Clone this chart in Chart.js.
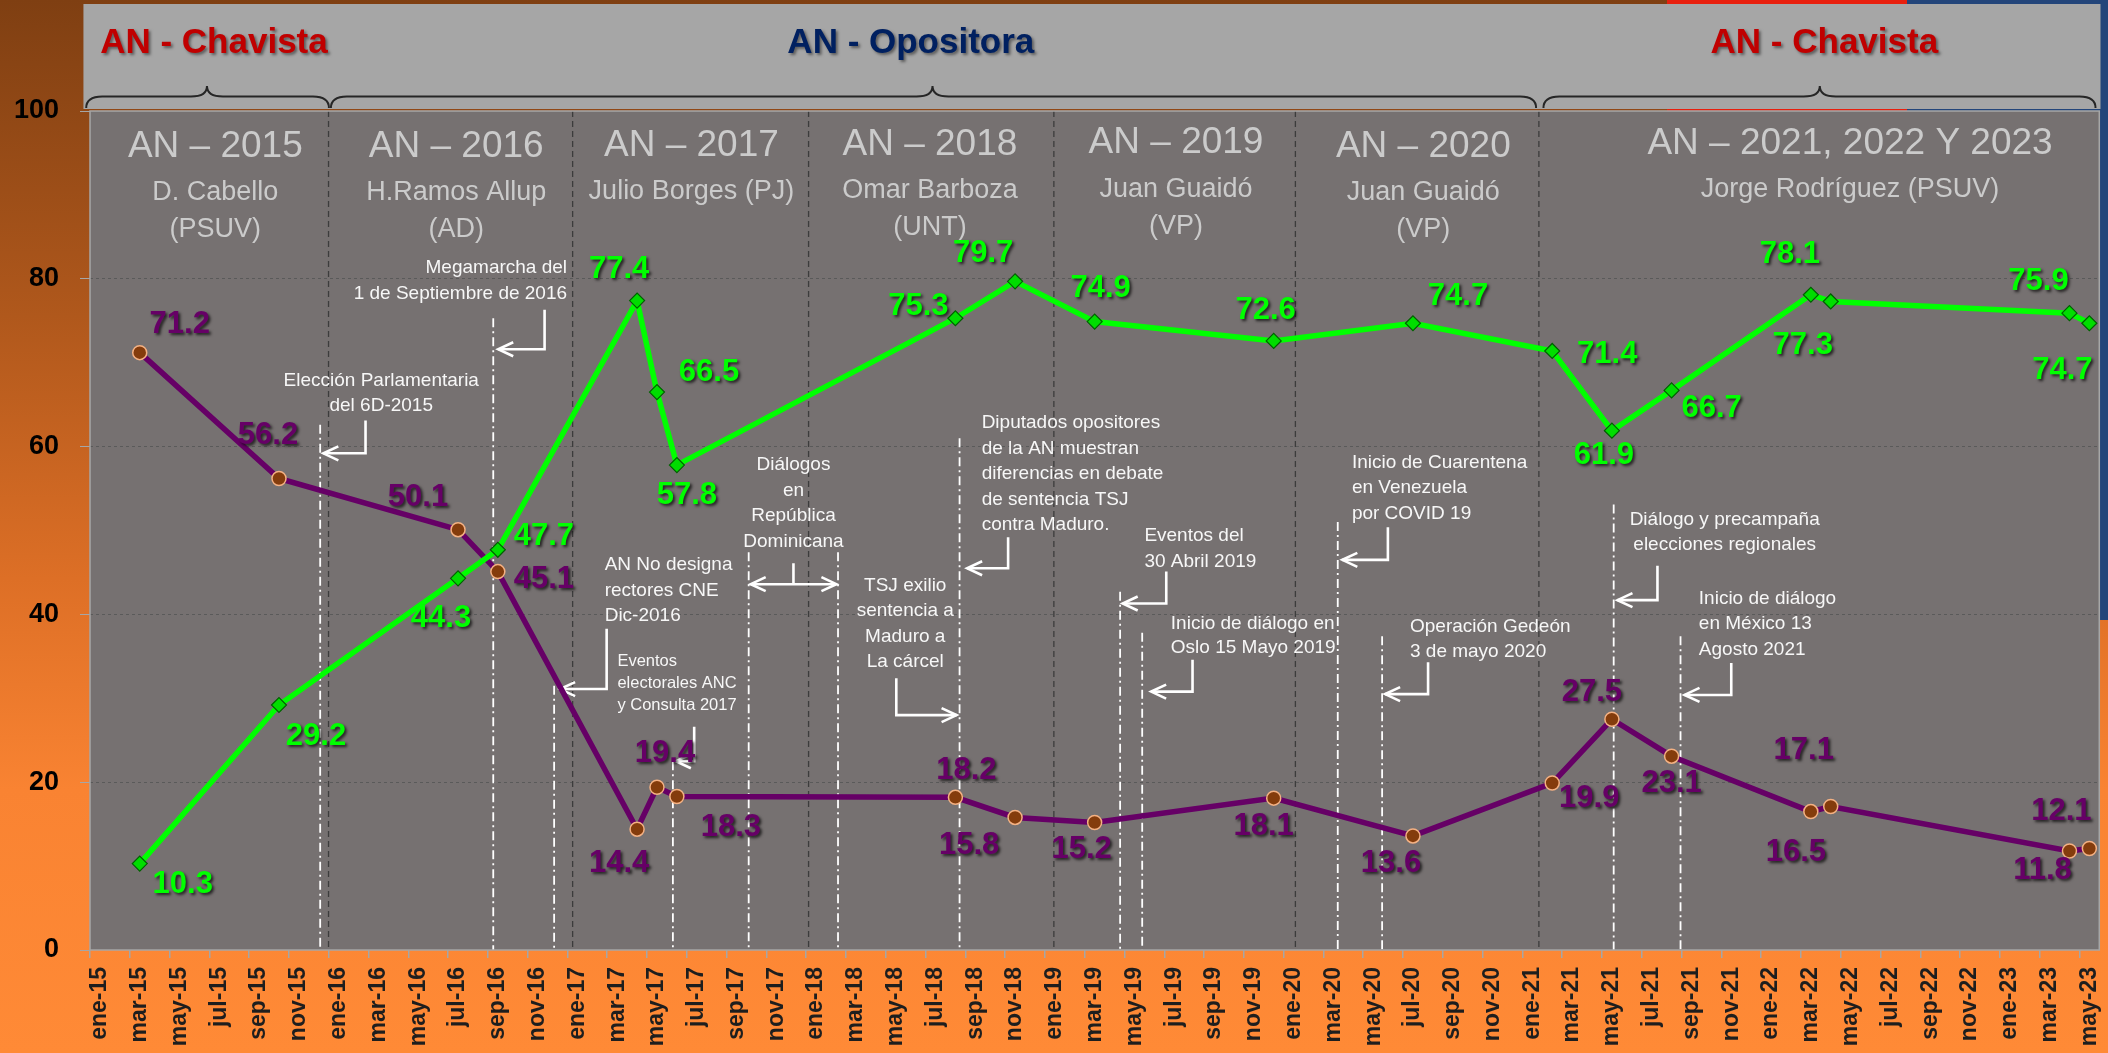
<!DOCTYPE html>
<html>
<head>
<meta charset="utf-8">
<script src="https://cdn.jsdelivr.net/npm/chart.js@4.4.1/dist/chart.umd.min.js"></script>
<style>
html, body { margin: 0; padding: 0; background: #ff8a36; }
canvas { display: block; }
</style>
</head>
<body>
<canvas id="anChart" width="2108" height="1053"></canvas>
<script>
// axis months: ene-15 .. may-23
const monthNames = ['ene', 'feb', 'mar', 'abr', 'may', 'jun', 'jul', 'ago', 'sep', 'oct', 'nov', 'dic'];
const months = [];
for (let yy = 15; yy <= 23; yy++) {
    for (let m = 0; m < 12; m++) {
        if (yy === 23 && m > 4) break;
        months.push(monthNames[m] + '-' + yy);
    }
}

// survey dates and values
const surveyMonths = ['mar-15', 'oct-15', 'jul-16', 'sep-16', 'abr-17', 'may-17', 'jun-17', 'ago-18', 'nov-18', 'mar-19',
    'dic-19', 'jul-20', 'feb-21', 'may-21', 'ago-21', 'mar-22', 'abr-22', 'abr-23', 'may-23'];
const greenValues = [10.3, 29.2, 44.3, 47.7, 77.4, 66.5, 57.8, 75.3, 79.7, 74.9,
    72.6, 74.7, 71.4, 61.9, 66.7, 78.1, 77.3, 75.9, 74.7];
const purpleValues = [71.2, 56.2, 50.1, 45.1, 14.4, 19.4, 18.3, 18.2, 15.8, 15.2,
    18.1, 13.6, 19.9, 27.5, 23.1, 16.5, 17.1, 11.8, 12.1];
const yTicks = [0, 20, 40, 60, 80, 100];

// where each value label sits relative to its point (px)
const greenLabelOffsets = [[43, 21], [37, 31], [-17, 40], [46, -13], [-18, -31], [52, -20], [10, 30], [-37, -12], [-32, -28], [6, -33],
    [-8, -30], [45, -27], [55, 3], [-8, 25], [40, 18], [-21, -40], [-28, 44], [-31, -32], [-27, 47]];
const purpleLabelOffsets = [[40, -28], [-11, -43], [-40, -32], [46, 8], [-18, 34], [8, -34], [54, 31], [11, -27], [-46, 28], [-13, 27],
    [-10, 28], [-22, 28], [37, 15], [-20, -27], [0, 27], [-15, 41], [-27, -56], [-27, 19], [-28, -37]];

// annotation layout, x in month index, y in axis value
const periodSeparators = [11.49, 23.76, 35.62, 47.95, 60.09, 72.33];
const eventLines = [
    { i: 11.07, top: 62.6 }, { i: 19.77, top: 75.3 }, { i: 22.83, top: 31.5 }, { i: 28.80, top: 22.5 },
    { i: 32.61, top: 47.4 }, { i: 37.10, top: 47.4 }, { i: 43.21, top: 61.0 }, { i: 51.28, top: 42.7 },
    { i: 52.39, top: 37.8 }, { i: 62.22, top: 51.0 }, { i: 64.45, top: 37.4 }, { i: 76.09, top: 53.1 },
    { i: 79.45, top: 37.4 }
];
const arrows = [
    { x: 13.35, y1: 63.1, y2: 59.2, to: 11.23 }, { x: 22.35, y1: 76.3, y2: 71.6, to: 20.02 },
    { x: 25.47, y1: 38.3, y2: 31.1, to: 23.13 }, { x: 29.87, y1: 26.6, y2: 22.5, to: 28.95 },
    { x: 40.03, y1: 32.4, y2: 28.0, to: 43.06 }, { x: 45.65, y1: 49.2, y2: 45.5, to: 43.59 },
    { x: 53.60, y1: 45.1, y2: 41.3, to: 51.41 }, { x: 54.92, y1: 34.6, y2: 30.8, to: 52.84 },
    { x: 64.74, y1: 50.4, y2: 46.5, to: 62.45 }, { x: 66.76, y1: 34.3, y2: 30.5, to: 64.60 },
    { x: 78.29, y1: 45.8, y2: 41.7, to: 76.28 }, { x: 82.00, y1: 34.2, y2: 30.4, to: 79.65 }
];
const doubleArrow = { from: 32.71, to: 37.02, y: 43.6, stem: 34.86, stemTop: 46.1 };
const notes = [
    { lines: ['Elección Parlamentaria', 'del 6D-2015'], i: 14.14, v: 67.86, align: 'center' },
    { lines: ['Megamarcha del', '1 de Septiembre de 2016'], i: 23.48, v: 81.3, align: 'right' },
    { lines: ['AN No designa', 'rectores CNE', 'Dic-2016'], i: 25.37, v: 45.89, align: 'left' },
    { lines: ['Eventos', 'electorales ANC', 'y Consulta 2017'], i: 26.01, v: 34.37, align: 'left', size: 16.5, lh: 22 },
    { lines: ['Diálogos', 'en', 'República', 'Dominicana'], i: 34.86, v: 57.81, align: 'center' },
    { lines: ['TSJ exilio', 'sentencia a', 'Maduro a', 'La cárcel'], i: 40.48, v: 43.43, align: 'center' },
    { lines: ['Diputados opositores', 'de la AN muestran', 'diferencias en debate', 'de sentencia TSJ', 'contra Maduro.'], i: 44.32, v: 62.82, align: 'left' },
    { lines: ['Eventos del', '30 Abril 2019'], i: 52.50, v: 49.35, align: 'left' },
    { lines: ['Inicio de diálogo en', 'Oslo 15 Mayo 2019'], i: 53.83, v: 38.86, align: 'left', lh: 24 },
    { lines: ['Inicio de Cuarentena', 'en Venezuela', 'por COVID 19'], i: 62.93, v: 58.09, align: 'left' },
    { lines: ['Operación Gedeón', '3 de mayo 2020'], i: 65.85, v: 38.47, align: 'left', lh: 24.5 },
    { lines: ['Diálogo y precampaña', 'elecciones regionales'], i: 81.67, v: 51.26, align: 'center', lh: 25 },
    { lines: ['Inicio de diálogo', 'en México 13', 'Agosto 2021'], i: 80.37, v: 41.92, align: 'left' }
];
const periodHeaders = [
    { title: 'AN – 2015', sub: ['D. Cabello', '(PSUV)'], i: 5.80, v: 95.76 },
    { title: 'AN – 2016', sub: ['H.Ramos Allup', '(AD)'], i: 17.91, v: 95.76 },
    { title: 'AN – 2017', sub: ['Julio Borges (PJ)'], i: 29.73, v: 95.87 },
    { title: 'AN – 2018', sub: ['Omar Barboza', '(UNT)'], i: 41.72, v: 95.96 },
    { title: 'AN – 2019', sub: ['Juan Guaidó', '(VP)'], i: 54.09, v: 96.16 },
    { title: 'AN – 2020', sub: ['Juan Guaidó', '(VP)'], i: 66.52, v: 95.76 },
    { title: 'AN – 2021, 2022 Y 2023', sub: ['Jorge Rodríguez (PSUV)'], i: 87.97, v: 96.08 }
];
const braces = [
    { from: -0.69, to: 11.51, tip: 5.38 },
    { from: 11.61, to: 72.19, tip: 41.85 },
    { from: 72.56, to: 100.31, tip: 86.45 }
];
const bandTitles = [
    { text: 'AN - Chavista', i: 5.73, color: '#c00000' },
    { text: 'AN - Opositora', i: 40.76, color: '#002060' },
    { text: 'AN - Chavista', i: 86.68, color: '#c00000' }
];

const FONT = '"Liberation Sans", Arial, sans-serif';

function drawArrowHead(ctx, x, y, dir) {
    ctx.beginPath();
    ctx.moveTo(x - dir * 15, y - 7);
    ctx.lineTo(x, y);
    ctx.lineTo(x - dir * 15, y + 7);
    ctx.stroke();
}

const decorations = {
    id: 'decorations',
    beforeDraw(chart) {
        const ctx = chart.ctx;
        const area = chart.chartArea;
        const sx = chart.scales.x;
        const W = chart.width, H = chart.height;
        ctx.save();
        const g = ctx.createLinearGradient(0, 0, 0, H);
        g.addColorStop(0, '#7f3f12');
        g.addColorStop(0.3, '#b0581c');
        g.addColorStop(0.55, '#dd6f26');
        g.addColorStop(0.75, '#f98332');
        g.addColorStop(1, '#ff8a36');
        ctx.fillStyle = g;
        ctx.fillRect(0, 0, W, H);
        // bits of the picture behind, top right
        ctx.fillStyle = '#e8200e';
        ctx.fillRect(1667, 0, 240, area.top);
        ctx.fillStyle = '#23457a';
        ctx.fillRect(1907, 0, W - 1907, area.top);
        ctx.fillRect(area.right, 0, W - area.right, 620);

        // title band
        const bl = sx.getPixelForValue(-0.83), br = sx.getPixelForValue(100.56);
        ctx.fillStyle = '#a6a6a6';
        ctx.fillRect(bl, area.top - 107, br - bl, 105);

        ctx.strokeStyle = '#262626';
        ctx.lineWidth = 2;
        const yMid = area.top - 14.5, yEnd = area.top - 3, yTip = area.top - 25;
        braces.forEach(b => {
            const x0 = sx.getPixelForValue(b.from), x1 = sx.getPixelForValue(b.to), cx = sx.getPixelForValue(b.tip);
            const r = 16;
            ctx.beginPath();
            ctx.moveTo(x0, yEnd);
            ctx.quadraticCurveTo(x0, yMid, x0 + r, yMid);
            ctx.lineTo(cx - r, yMid);
            ctx.quadraticCurveTo(cx, yMid, cx, yTip);
            ctx.quadraticCurveTo(cx, yMid, cx + r, yMid);
            ctx.lineTo(x1 - r, yMid);
            ctx.quadraticCurveTo(x1, yMid, x1, yEnd);
            ctx.stroke();
        });

        ctx.font = 'bold 35px ' + FONT;
        ctx.textAlign = 'center';
        ctx.textBaseline = 'middle';
        ctx.shadowColor = 'rgba(0,0,0,0.45)';
        ctx.shadowOffsetX = 2;
        ctx.shadowOffsetY = 2;
        ctx.shadowBlur = 3;
        bandTitles.forEach(t => {
            ctx.fillStyle = t.color;
            ctx.fillText(t.text, sx.getPixelForValue(t.i), area.top - 68);
        });
        ctx.restore();

        // plot area
        ctx.save();
        ctx.fillStyle = '#767171';
        ctx.fillRect(area.left, area.top, area.right - area.left, area.bottom - area.top);
        ctx.restore();
    },
    beforeDatasetsDraw(chart) {
        const ctx = chart.ctx;
        const area = chart.chartArea;
        const sx = chart.scales.x, sy = chart.scales.y;
        ctx.save();

        // period separators
        ctx.strokeStyle = '#3c3c3c';
        ctx.lineWidth = 1.3;
        ctx.setLineDash([6, 4]);
        periodSeparators.forEach(i => {
            const x = sx.getPixelForValue(i);
            ctx.beginPath();
            ctx.moveTo(x, area.top);
            ctx.lineTo(x, area.bottom);
            ctx.stroke();
        });

        // headers of each period
        ctx.setLineDash([]);
        ctx.fillStyle = '#cbcbcb';
        ctx.textAlign = 'center';
        ctx.textBaseline = 'middle';
        periodHeaders.forEach(h => {
            const x = sx.getPixelForValue(h.i), y = sy.getPixelForValue(h.v);
            ctx.font = '37px ' + FONT;
            ctx.fillText(h.title, x, y);
            ctx.font = '27px ' + FONT;
            h.sub.forEach((s, k) => ctx.fillText(s, x, y + 46 + k * 37));
        });

        // event markers
        ctx.strokeStyle = '#ffffff';
        ctx.lineWidth = 1.8;
        ctx.setLineDash([9, 4, 2, 4]);
        eventLines.forEach(e => {
            const x = sx.getPixelForValue(e.i);
            ctx.beginPath();
            ctx.moveTo(x, sy.getPixelForValue(e.top));
            ctx.lineTo(x, area.bottom);
            ctx.stroke();
        });

        ctx.setLineDash([]);
        ctx.lineWidth = 2.6;
        arrows.forEach(a => {
            const x = sx.getPixelForValue(a.x), xt = sx.getPixelForValue(a.to);
            const y1 = sy.getPixelForValue(a.y1), y2 = sy.getPixelForValue(a.y2);
            ctx.beginPath();
            ctx.moveTo(x, y1);
            ctx.lineTo(x, y2);
            ctx.lineTo(xt, y2);
            ctx.stroke();
            drawArrowHead(ctx, xt, y2, Math.sign(xt - x));
        });
        const dl = sx.getPixelForValue(doubleArrow.from), dr = sx.getPixelForValue(doubleArrow.to);
        const dy = sy.getPixelForValue(doubleArrow.y), ds = sx.getPixelForValue(doubleArrow.stem);
        ctx.beginPath();
        ctx.moveTo(dl, dy);
        ctx.lineTo(dr, dy);
        ctx.moveTo(ds, sy.getPixelForValue(doubleArrow.stemTop));
        ctx.lineTo(ds, dy);
        ctx.stroke();
        drawArrowHead(ctx, dl, dy, -1);
        drawArrowHead(ctx, dr, dy, 1);

        ctx.fillStyle = '#f7f7f7';
        ctx.textBaseline = 'middle';
        notes.forEach(n => {
            ctx.font = (n.size || 19) + 'px ' + FONT;
            ctx.textAlign = n.align;
            const x = sx.getPixelForValue(n.i), y = sy.getPixelForValue(n.v);
            n.lines.forEach((s, k) => ctx.fillText(s, x, y + k * (n.lh || 25.5)));
        });
        ctx.restore();
    },
    afterDatasetsDraw(chart) {
        const ctx = chart.ctx;
        ctx.save();
        ctx.font = 'bold 31px ' + FONT;
        ctx.textAlign = 'center';
        ctx.textBaseline = 'middle';
        ctx.shadowColor = 'rgba(0,0,0,0.7)';
        ctx.shadowOffsetX = 2;
        ctx.shadowOffsetY = 2;
        ctx.shadowBlur = 3;
        const sets = [
            { idx: 0, values: greenValues, offs: greenLabelOffsets, color: '#00ff00' },
            { idx: 1, values: purpleValues, offs: purpleLabelOffsets, color: '#660066' }
        ];
        sets.forEach(s => {
            const meta = chart.getDatasetMeta(s.idx);
            ctx.fillStyle = s.color;
            meta.data.forEach((pt, k) => {
                ctx.fillText(s.values[k].toFixed(1), pt.x + s.offs[k][0], pt.y + s.offs[k][1]);
            });
        });
        ctx.restore();
    },
    afterDraw(chart) {
        const ctx = chart.ctx;
        const a = chart.chartArea;
        ctx.save();
        ctx.strokeStyle = '#a6a6a6';
        ctx.lineWidth = 1.5;
        ctx.strokeRect(a.left, a.top, a.right - a.left, a.bottom - a.top);
        ctx.restore();
    }
};

new Chart(document.getElementById('anChart').getContext('2d'), {
    type: 'line',
    data: {
        labels: months,
        datasets: [{
            label: 'Serie verde',
            data: surveyMonths.map((m, k) => ({ x: m, y: greenValues[k] })),
            borderColor: '#00ff00',
            borderWidth: 5.5,
            pointStyle: 'rectRot',
            pointRadius: 7.5,
            pointBackgroundColor: '#00dd00',
            pointBorderColor: '#006000',
            pointBorderWidth: 1.2,
            tension: 0
        }, {
            label: 'Serie morada',
            data: surveyMonths.map((m, k) => ({ x: m, y: purpleValues[k] })),
            borderColor: '#660066',
            borderWidth: 5.5,
            pointStyle: 'circle',
            pointRadius: 7,
            pointBackgroundColor: '#843c0c',
            pointBorderColor: '#f4b183',
            pointBorderWidth: 1.5,
            tension: 0
        }]
    },
    options: {
        responsive: false,
        devicePixelRatio: 1,
        animation: false,
        layout: { padding: { top: 111, right: 4, left: 0, bottom: 0 } },
        plugins: {
            legend: { display: false },
            tooltip: { enabled: false }
        },
        scales: {
            x: {
                offset: true,
                grid: {
                    offset: true,
                    drawOnChartArea: false,
                    tickLength: 8,
                    lineWidth: 1.5,
                    color: c => c.index % 2 === 0 ? '#a6a6a6' : 'rgba(0,0,0,0)'
                },
                border: { display: false },
                ticks: {
                    autoSkip: false,
                    minRotation: 90,
                    maxRotation: 90,
                    padding: 9,
                    color: '#1e1e1e',
                    font: { family: FONT, size: 23, weight: 'bold' },
                    callback: (v, i) => i % 2 === 0 ? months[i] : ''
                },
                afterFit: s => { s.height = 103; s.paddingLeft = 0; s.paddingRight = 0; }
            },
            y: {
                min: yTicks[0],
                max: yTicks[yTicks.length - 1],
                afterBuildTicks: s => { s.ticks = yTicks.map(v => ({ value: v })); },
                grid: {
                    color: c => (c.tick && (c.tick.value === 0 || c.tick.value === 100)) ? 'rgba(0,0,0,0)' : '#5a5a5a',
                    tickColor: '#a6a6a6',
                    tickLength: 10,
                    lineWidth: 1
                },
                border: { display: false, dash: [3, 3] },
                ticks: {
                    padding: 21,
                    color: '#000000',
                    font: { family: FONT, size: 27, weight: 'bold' }
                },
                afterFit: s => { s.width = 90; s.paddingTop = 0; s.paddingBottom = 0; }
            }
        }
    },
    plugins: [decorations]
});
</script>
</body>
</html>
